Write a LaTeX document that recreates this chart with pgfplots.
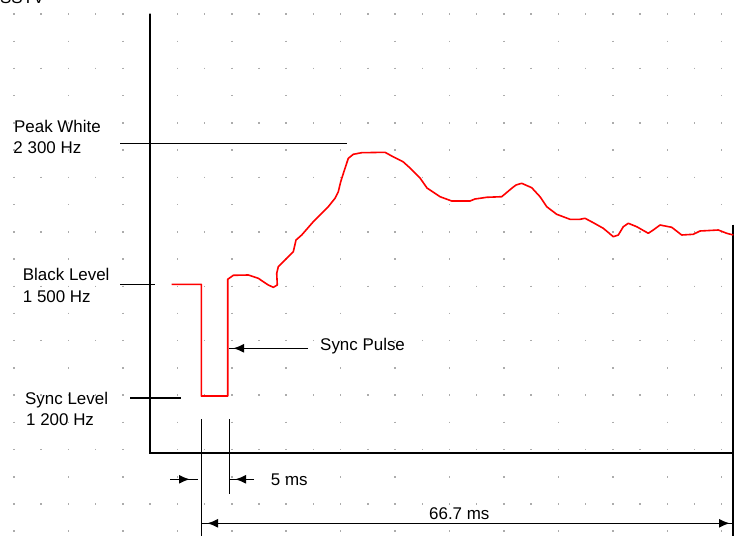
\documentclass[border=0pt]{standalone}
\usepackage{pgfplots}
\pgfplotsset{compat=1.18}
\usepackage{fontspec}
\setmainfont{Liberation Sans}
\usetikzlibrary{arrows.meta}
\begin{document}
\begin{tikzpicture}[lbl/.style={anchor=base west, inner sep=0pt, font=\fontsize{17}{20}\selectfont},
  ln/.style={line width=1.6bp}, ar/.style={line width=1.6bp, -{Latex[length=11bp,width=9bp]}}]
\begin{axis}[
  scale only axis, width=816.64bp, height=598.84bp,
  xmin=-40.44, xmax=776.2, ymin=-41.14, ymax=557.7, y dir=reverse,
  axis line style={draw=none},
  xtick={14,68.44,...,770}, minor xtick={41.22,95.66,...,760},
  ytick=\empty, xmajorticks=false, xminorticks=false,
  xmajorgrids, xminorgrids,
  major grid style={gray!65, line width=1.5bp, dash pattern=on 1.5bp off 25.72bp},
  minor grid style={gray!65, line width=1.5bp, dash pattern=on 1.5bp off 52.94bp},
  clip=false,
]
\coordinate (bl) at (axis cs:0,536);
\coordinate (tr) at (axis cs:734,0);
% axes
\draw[line width=2bp] (axis cs:149.5,14) -- (axis cs:149.5,452.5) -- (axis cs:734,452.5);
\draw[line width=1.8bp] (axis cs:733,224.7) -- (axis cs:733,536);
% level lines
\draw[ln] (axis cs:120,143.3) -- (axis cs:346.7,143.3);
\draw[ln] (axis cs:120,284.3) -- (axis cs:155,284.3);
\draw[ln] (axis cs:130,397.7) -- (axis cs:181,397.7);
% dimension lines
\draw[ln] (axis cs:201.3,419) -- (axis cs:201.3,536);
\draw[ln] (axis cs:229.3,419) -- (axis cs:229.3,493.5);
\draw[ln] (axis cs:170,479.3) -- (axis cs:197.7,479.3);
\draw[ar] (axis cs:170,479.3) -- (axis cs:190,479.3);
\draw[ln] (axis cs:230,479.3) -- (axis cs:254,479.3);
\draw[ar] (axis cs:254,479.3) -- (axis cs:235,479.3);
\draw[ln] (axis cs:229.3,348.3) -- (axis cs:308,348.3);
\draw[ar] (axis cs:308,348.3) -- (axis cs:233,348.3);
\draw[ln] (axis cs:201.3,523.3) -- (axis cs:734,523.3);
\draw[ar] (axis cs:230,523.3) -- (axis cs:207,523.3);
\draw[ar] (axis cs:700,523.3) -- (axis cs:730,523.3);
% signal
\addplot[red, line width=1.6bp, line join=round] coordinates {
(171.7,284.3) (201.3,284.3) (201.3,396) (227.7,396) (227.7,279.3) (233.3,275.3)
(248.3,275) (258.3,278.3) (263.3,281.7) (268.3,285) (273.3,287.3) (277.3,285)
(276.7,273.3) (278.3,266.7) (283.3,261.7) (286.7,258.3) (293.3,251.7) (296,240)
(301.7,235) (313.3,221.7) (328.3,206.7) (335,198.3) (338.3,191.7) (340.7,181.7)
(345,168.3) (348.3,158.3) (353.3,154.3) (361.7,152.7) (385,152.3) (393,156.7)
(403,161.7) (410,168) (420,178) (427,188) (440,196.7) (451.7,201) (470,201)
(475,199) (486.7,197.3) (501.7,196.7) (511.7,188.3) (516,185) (521.7,183.3)
(531.7,187.7) (540,196.7) (546.7,206.7) (556.7,214.3) (570,219.3) (580,219.3)
(585,218.3) (593.3,222.7) (603.3,228.3) (613.3,236.7) (618.3,235) (623.3,226.7)
(628.3,223.3) (636.7,226.7) (648.3,233.3) (653.3,230) (660,225) (671.7,227.3)
(681.7,235) (693.3,234.3) (700,231) (718.3,230) (726.7,233.3) (733.3,235)
};
% labels
\node[lbl] at (axis cs:0,4) {SSTV};
\node[lbl] at (axis cs:14,132.7) {Peak White};
\node[lbl] at (axis cs:13.3,153.3) {2 300 Hz};
\node[lbl] at (axis cs:22.7,280.7) {Black Level};
\node[lbl] at (axis cs:22.7,302.7) {1 500 Hz};
\node[lbl] at (axis cs:25,404) {Sync Level};
\node[lbl] at (axis cs:26,425.7) {1 200 Hz};
\node[lbl] at (axis cs:320,350.5) {Sync Pulse};
\node[lbl] at (axis cs:270.7,485) {5 ms};
\node[lbl] at (axis cs:429,519.3) {66.7 ms};
\end{axis}
\pgfresetboundingbox
\path (bl) rectangle (tr);
\end{tikzpicture}
\end{document}
